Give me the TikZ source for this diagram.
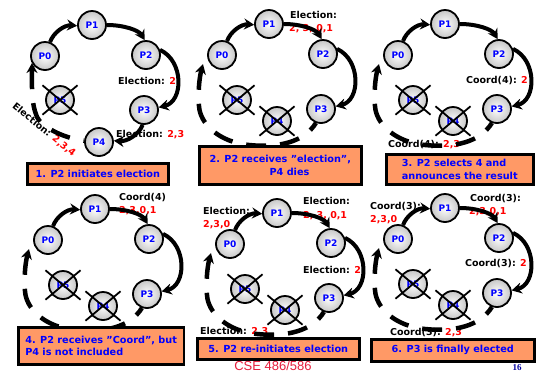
\documentclass[tikz,border=0pt]{standalone}
\usepackage{fontspec}
\setsansfont{DejaVu Sans}
\newfontfamily\arialfont{Liberation Sans}
\newfontfamily\timesfont{Liberation Serif}
\usetikzlibrary{arrows.meta}
\definecolor{boxfill}{RGB}{255,153,102}
\definecolor{csecol}{RGB}{230,30,60}
\definecolor{pgnum}{RGB}{0,0,160}
\newcommand\sq{\symbol{34}}
\tikzset{
 proc/.style={circle, draw, line width=1.8pt, minimum size=28pt, inner sep=0pt,
   inner color=white, outer color=black!22,
   font=\sffamily\bfseries\fontsize{9}{10}\selectfont, text=blue},
 xline/.style={line width=1.8pt, shorten <=-8pt, shorten >=-8pt},
 arr/.style={line width=4pt, -{Stealth[length=10pt,width=11pt]}},
 darr/.style={line width=4.5pt, dash pattern=on 20pt off 14pt, {Stealth[length=10pt,width=11pt]}-},
 lab/.style={inner sep=0pt, anchor=base west, font=\sffamily\bfseries\fontsize{9.5}{12}\selectfont},
 msgbox/.style={draw, line width=2.5pt, fill=boxfill, anchor=north west, inner ysep=0pt,
   align=left, text=blue, font=\sffamily\bfseries\fontsize{9.7}{12.5}\selectfont},
}
\newcommand\crossout[1]{%
 \draw[xline] (#1.140) -- (#1.-40);
 \draw[xline] (#1.40) -- (#1.-140);}
\newcommand\toparcs[1]{%
 \draw[arr] (#1p0.70) .. controls +(3,-9) and +(-13,-1) .. (#1p1.183);
 \draw[arr] (#1p1.0) .. controls +(17,0) and +(-6,-10) .. (#1p2.95);
 \draw[arr] (#1p2.20) .. controls +(24,11) and +(25,-6) .. (#1p3.10);}
\newcommand\panelA[3]{%
\begin{scope}[shift={(#2,#3)}]
 \node[proc] (#1p1) at (0,0) {P1};
 \node[proc] (#1p0) at (-47,31) {P0};
 \node[proc] (#1p2) at (54,30) {P2};
 \node[proc] (#1p3) at (52,85) {P3};
 \node[proc] (#1p4) at (7,117) {P4};
 \node[proc] (#1p5) at (-32,75) {P5};
 \crossout{#1p5}
 \toparcs{#1}
 \draw[arr] (#1p3.265) .. controls +(-4,10) and +(13,1) .. (#1p4.5);
 \coordinate (#1tip) at (-60,38);
 \draw[darr] (#1tip) .. controls (-60,60) and (-61,78) .. (-55,92)
   .. controls (-51,101) and (-30,113) .. (#1p4.175);
\end{scope}}
\newcommand\panelB[3]{%
\begin{scope}[shift={(#2,#3)}]
 \node[proc] (#1p1) at (0,0) {P1};
 \node[proc] (#1p0) at (-47,31) {P0};
 \node[proc] (#1p2) at (54,30) {P2};
 \node[proc] (#1p3) at (52,85) {P3};
 \node[proc] (#1p5) at (-32,76) {P5};
 \node[proc] (#1p4) at (8,97) {P4};
 \crossout{#1p5}
 \crossout{#1p4}
 \toparcs{#1}
 \coordinate (#1tip) at (-66,40);
 \draw[darr] (#1tip) .. controls (-70,55) and (-71,70) .. (-70,82)
   .. controls (-69,100) and (-50,118) .. (-20,121)
   .. controls (10,124) and (35,118) .. (#1p3.250);
\end{scope}}
\begin{document}
\begin{tikzpicture}[x=1pt, y=-1pt]
\fill[white] (0,0) rectangle (536,373);
\useasboundingbox (0,0) rectangle (536,373);
% ---- labels (drawn first, arcs pass over them)
% panel 1
\node[lab] (l1a) at (118,84) {Election: \textcolor{red}{2}};
\node[lab] (l1b) at (116,137) {Election: \textcolor{red}{2,3}};
\node[inner sep=0pt, rotate=-39, font=\sffamily\bfseries\fontsize{9.5}{12}\selectfont] (l1c) at (44,130) {Election: \textcolor{red}{2,3,4}};
% panel 2
\node[lab] (l2a) at (290,18) {Election:};
\node[lab, text=red] (l2b) at (289,31) {2, 3, 0,1};
% panel 3
\node[lab] (l3a) at (466,83) {Coord(4): \textcolor{red}{2}};
\node[lab] (l3b) at (388,147) {Coord(4): \textcolor{red}{2,3}};
% panel 4
\node[lab] (l4a) at (119,200) {Coord(4)};
\node[lab, text=red] (l4b) at (119,213) {2,3,0,1};
% panel 5
\node[lab] (l5a) at (203,214) {Election:};
\node[lab, text=red] (l5b) at (203,227) {2,3,0};
\node[lab] (l5c) at (303,204) {Election:};
\node[lab, text=red] (l5d) at (303,218) {2, 3, 0,1};
\node[lab] (l5e) at (303,273) {Election: \textcolor{red}{2}};
\node[lab] (l5f) at (200,334) {Election: \textcolor{red}{2,3}};
% panel 6
\node[lab] (l6a) at (370,209) {Coord(3):};
\node[lab, text=red] (l6b) at (370,222) {2,3,0};
\node[lab] (l6c) at (470,201) {Coord(3):};
\node[lab, text=red] (l6d) at (469,214) {2,3,0,1};
\node[lab] (l6e) at (465,266) {Coord(3): \textcolor{red}{2}};
\node[lab] (l6f) at (390,335) {Coord(3): \textcolor{red}{2,3}};
% ---- rings
\panelA{a}{92}{25}
\panelB{b}{269}{24}
\panelB{c}{445}{24}
\panelB{d}{95}{209}
\panelB{e}{277}{213}
\panelB{f}{445}{208}
% ---- caption boxes
\node[msgbox, minimum width=141pt, minimum height=21pt, inner xsep=6pt] (box1) at (26,162) {1. P2 initiates election};
\node[msgbox, minimum width=162pt, minimum height=38pt, inner xsep=8pt] (box2) at (198,145) {2. P2 receives \sq election\sq,\\\hspace*{60pt}P4 dies};
\node[msgbox, minimum width=147pt, minimum height=30pt, inner xsep=7pt] (box3) at (385,153) {3. P2 selects 4 and\\announces the result};
\node[msgbox, minimum width=161pt, minimum height=37pt, inner xsep=7pt] (box4) at (17,326) {4. P2 receives \sq Coord\sq, but\\P4 is not included};
\node[msgbox, minimum width=162pt, minimum height=21pt, inner xsep=7pt] (box5) at (196,337) {5. P2 re-initiates election};
\node[msgbox, minimum width=163pt, minimum height=22pt, inner xsep=8pt] (box6) at (370,338) {6. P3 is finally elected};
% ---- footer
\node[inner sep=0pt, text=csecol, font=\arialfont\fontsize{13}{14}\selectfont] (cse) at (273,366) {CSE 486/586};
\node[inner sep=0pt, text=pgnum, font=\timesfont\bfseries\fontsize{9}{10}\selectfont] (pg) at (517,368) {16};
\end{tikzpicture}
\end{document}
